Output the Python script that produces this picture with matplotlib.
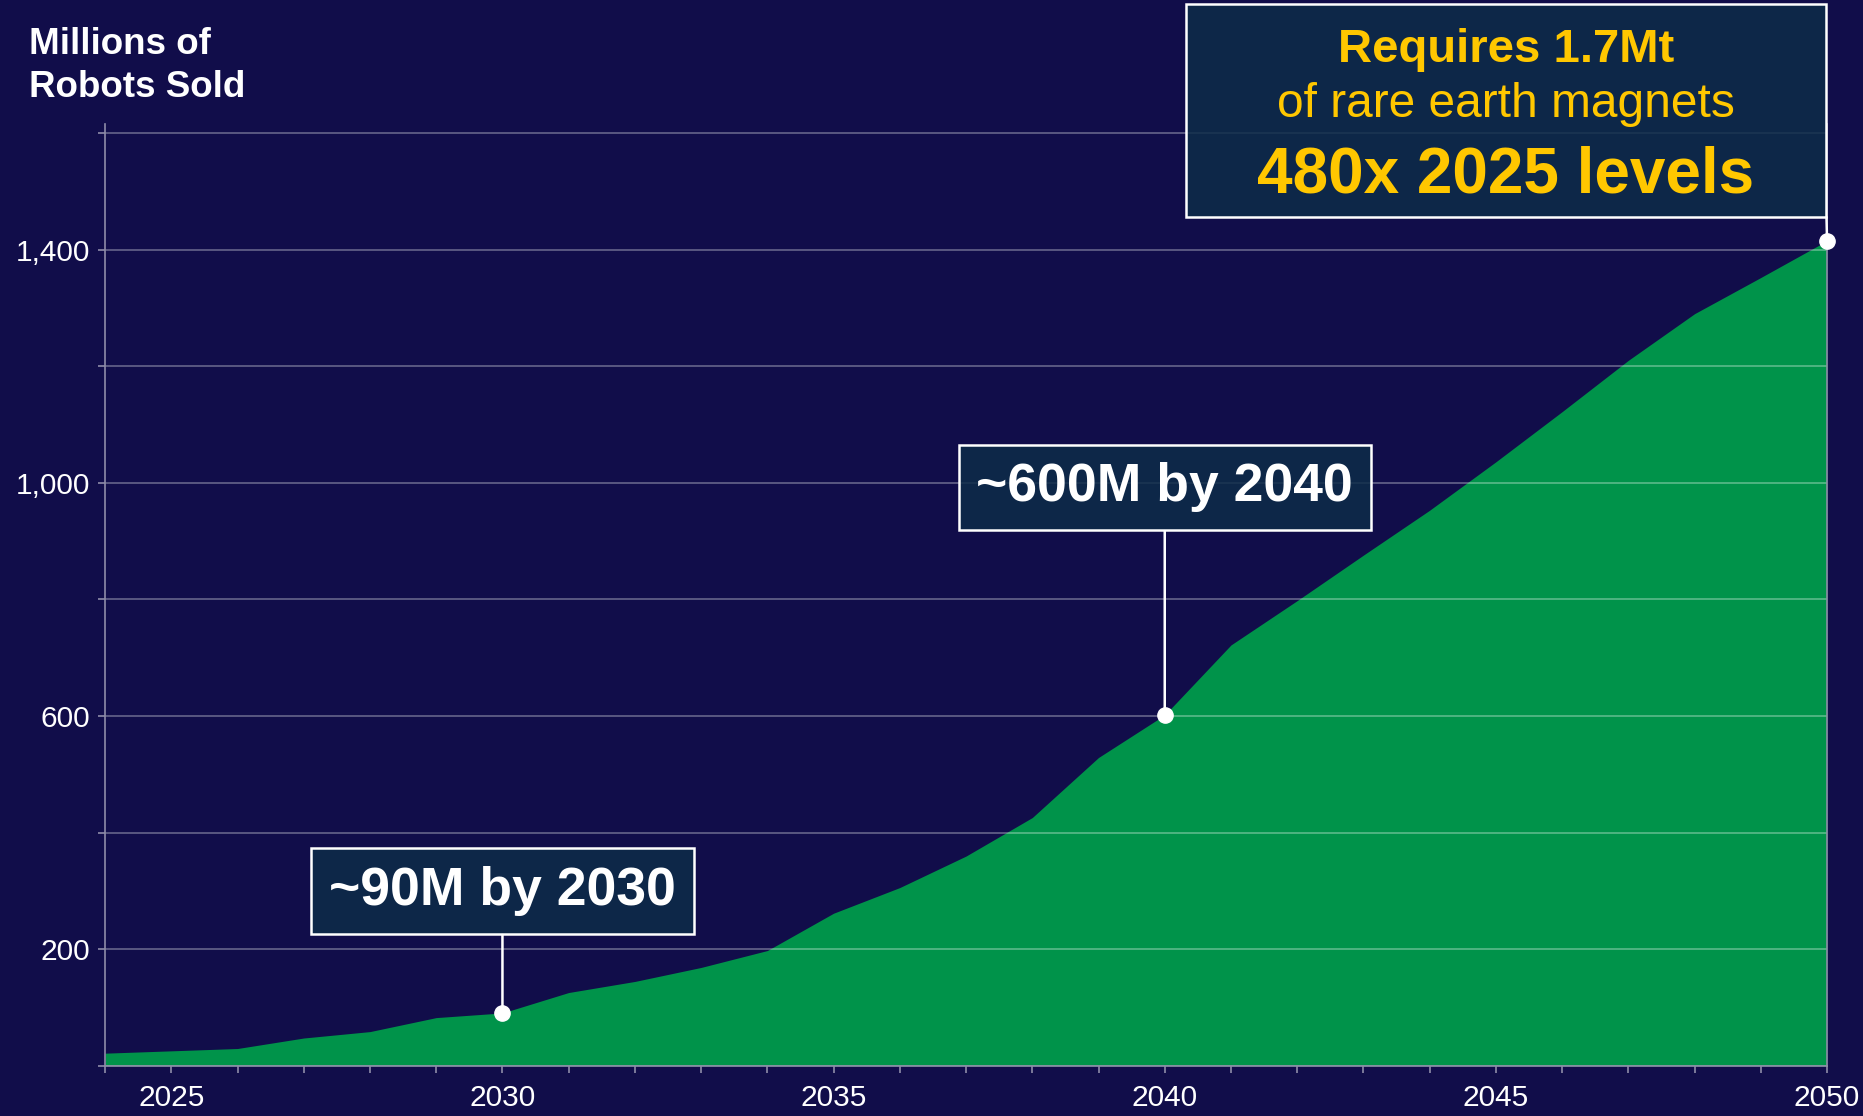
import matplotlib
matplotlib.use("Agg")
import matplotlib.pyplot as plt
from matplotlib.patches import Rectangle

plt.rcParams['font.family'] = ['Liberation Sans', 'DejaVu Sans']

# data
years = list(range(2024, 2051))
robots = [22, 26, 30, 48, 59, 83, 91, 126, 145, 169, 198, 262, 306, 360, 426,
          529, 602, 722, 798, 876, 953, 1036, 1122, 1210, 1290, 1352, 1415]

y_ticks = [0, 200, 400, 600, 800, 1000, 1200, 1400, 1600]
y_labels = ['', '200', '', '600', '', '1,000', '', '1,400', '']
x_labels = [str(y) if y % 5 == 0 else '' for y in years]

callout_years = [2030, 2040]
callout_vals = [91, 602]
callout_text = ['~90M by 2030', '~600M by 2040']
callout_box_y = [300, 992]

bg = '#110D4A'
green = '#00934A'
boxc = (13/255, 44/255, 72/255, 0.85)
yellow = '#FFC700'

fig = plt.figure(figsize=(18.63, 11.16), dpi=100)
fig.patch.set_facecolor(bg)
ax = fig.add_axes([0.0564, 0.0448, 0.9243, 0.8445])
ax.set_facecolor(bg)

ax.fill_between(years, robots, 0, color=green, lw=0)

ax.set_xlim(2024, 2050)
ax.set_ylim(0, 1616)
ax.set_xticks(years)
ax.set_xticklabels(x_labels)
ax.set_yticks(y_ticks)
ax.set_yticklabels(y_labels)
ax.grid(axis='y', color='white', alpha=0.33, lw=1.3)
ax.tick_params(axis='both', colors='#8E8CA8', labelcolor='white', labelsize=21.5,
               length=5, width=1.2)
ax.tick_params(axis='x', pad=8)
ax.tick_params(axis='y', pad=6)
ax.spines['top'].set_visible(False)
for s in ['left', 'right', 'bottom']:
    ax.spines[s].set_color('#8E8CA8')
    ax.spines[s].set_linewidth(1.2)

# callouts
for yr, v, t, by in zip(callout_years, callout_vals, callout_text, callout_box_y):
    ax.annotate(t, xy=(yr, v), xytext=(yr, by), textcoords='data',
                ha='center', va='center', fontsize=38.5, fontweight='bold', color='white',
                bbox=dict(boxstyle='square,pad=0.33', fc=boxc, ec='white', lw=1.8),
                arrowprops=dict(arrowstyle='-', color='white', lw=1.8,
                                shrinkA=0, shrinkB=0),
                zorder=4)
ax.plot(callout_years + [years[-1]], callout_vals + [robots[-1]], 'o', color='white',
        ms=11, zorder=6, clip_on=False)

# big box top right
fig.patches.append(Rectangle((0.6366, 0.8056), 0.3435, 0.1909, transform=fig.transFigure,
                             fc=boxc, ec='white', lw=1.8, zorder=4))
ax.annotate('', xy=(years[-1], robots[-1]), xytext=(0.9804, 0.8056),
            textcoords='figure fraction',
            arrowprops=dict(arrowstyle='-', color='white', lw=1.8, shrinkA=0, shrinkB=0),
            annotation_clip=False, zorder=5)
fig.text(0.8084, 0.9444, 'Requires 1.7Mt', ha='center', va='baseline', fontsize=34,
         fontweight='bold', color=yellow, zorder=6)
fig.text(0.8084, 0.8952, 'of rare earth magnets', ha='center', va='baseline',
         fontsize=34.5, color=yellow, zorder=6)
fig.text(0.8084, 0.8271, '480x 2025 levels', ha='center', va='baseline', fontsize=46,
         fontweight='bold', color=yellow, zorder=6)

fig.text(0.0155, 0.976, 'Millions of\nRobots Sold', ha='left', va='top', fontsize=26.5,
         fontweight='bold', color='white', linespacing=1.32)

fig.savefig('out.png', dpi=100, facecolor=bg)
